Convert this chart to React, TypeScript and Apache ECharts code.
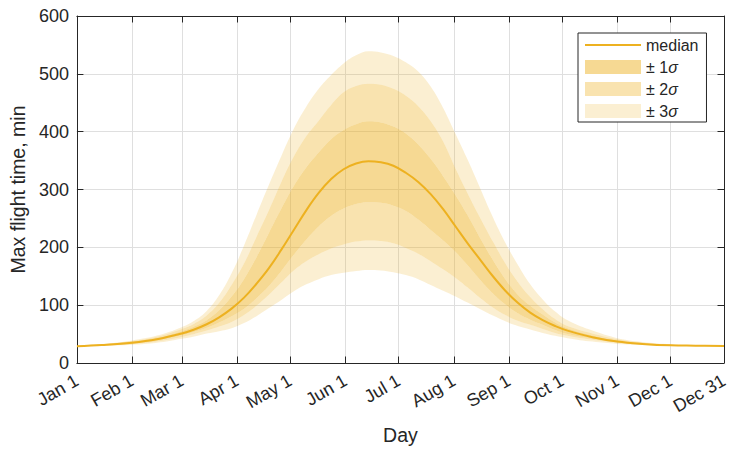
import React, { useEffect, useRef } from "react";
import * as echarts from "echarts";

// Sample days (0 = Jan 1, 364 = Dec 31)
const sampleDays = [0, 14, 31, 45, 59, 66, 73, 80, 87, 94, 101, 108, 115, 122, 129, 136, 143, 150, 157, 164, 171, 178, 185, 192, 199, 206, 213, 220, 227, 234, 241, 248, 255, 262, 269, 276, 290, 304, 318, 334, 348, 364];

const median = [29, 31, 35, 41, 51, 58, 67, 79, 94, 113, 137, 164, 196, 230, 264, 294, 318, 335, 345, 349, 347, 341, 329, 313, 292, 266, 236, 206, 178, 150, 125, 104, 87, 74, 64, 56, 44.5, 37, 33, 30.5, 30, 29.5];
const sigma1Upper = [29.5, 31.8, 37, 43.5, 55, 63, 74, 91, 115, 145, 183, 225, 267, 306, 338, 364, 387, 403, 413, 418, 416, 409, 397, 378, 353, 323, 290, 254, 215, 178, 145, 118, 99, 84, 70, 60, 47.5, 39, 34.5, 31.5, 30.3, 29.8];
const sigma2Upper = [29.8, 32.3, 38, 45.5, 59, 68, 82, 104, 135, 172, 218, 264, 313, 357, 392, 419, 446, 468, 479, 483, 481, 474, 462, 444, 418, 383, 336, 292, 250, 210, 172, 140, 114, 93, 76, 64, 51, 41, 35.5, 32, 30.5, 29.9];
const sigma3Upper = [30, 32.8, 39, 47.5, 62, 73, 90, 117, 155, 203, 256, 308, 358, 405, 443, 474, 498, 518, 532, 539, 537, 531, 520, 504, 478, 441, 396, 350, 301, 252, 208, 170, 136, 110, 89, 74, 56, 43, 36.5, 32.5, 30.7, 30];
const sigma1Lower = [28.7, 30.4, 33.5, 39, 48, 54, 61, 70, 81, 94, 112, 133, 159, 187, 213, 236, 254, 267, 275, 278, 277, 272, 263, 248, 230, 212, 192, 168, 143, 120, 101, 86, 75, 66, 57, 50, 42, 35.5, 32, 30, 29.7, 29.3];
const sigma2Lower = [28.5, 30, 32.5, 37, 45, 50, 56, 63, 71, 83, 99, 118, 139, 160, 176, 188, 198, 205, 210, 212, 211, 207, 199, 189, 176, 162, 147, 130, 112, 96, 83, 73, 66, 59, 52, 47, 40, 34.5, 31.5, 29.8, 29.5, 29.1];
const sigma3Lower = [28.3, 29.6, 31.5, 35, 42, 46, 51, 55, 60, 69, 81, 95, 109, 124, 136, 145, 152, 156, 159, 161, 160, 157, 152, 145, 135, 125, 115, 104, 93, 82, 72, 64, 58, 52, 47, 43, 37, 33, 31, 29.5, 29.3, 29];

const tickLabels = ["Jan 1", "Feb 1", "Mar 1", "Apr 1", "May 1", "Jun 1", "Jul 1", "Aug 1", "Sep 1", "Oct 1", "Nov 1", "Dec 1", "Dec 31"];
const monthNames = ["Jan", "Feb", "Mar", "Apr", "May", "Jun", "Jul", "Aug", "Sep", "Oct", "Nov", "Dec"];
const monthLengths = [31, 28, 31, 30, 31, 30, 31, 31, 30, 31, 30, 31];
const legendNames = ["median", "± 1σ", "± 2σ", "± 3σ"];

const yTicks = { min: 0, max: 600, interval: 100 };

const FONT = "'Liberation Sans', Arial, Helvetica, sans-serif";
const AX = "#262626";
const GOLD = "#EDB120";
const C1 = "rgba(237,177,32,0.488)";
const C2 = "rgba(237,177,32,0.36)";
const C3 = "rgba(237,177,32,0.2)";
const SMOOTH = 0.4;

function buildCategories(): string[] {
  const out: string[] = [];
  monthNames.forEach((m, i) => {
    for (let d = 1; d <= monthLengths[i]; d++) out.push(`${m} ${d}`);
  });
  return out;
}

export default function App() {
  const ref = useRef<HTMLDivElement>(null);

  useEffect(() => {
    if (!ref.current) return;
    const chart = echarts.init(ref.current, undefined, { renderer: "svg" });
    const categories = buildCategories();
    const isTick = (_i: number, v: string) => tickLabels.includes(v);

    const pairs = (arr: number[]) => arr.map((v, i) => [sampleDays[i], v]);
    const diff = (a: number[], b: number[]) => a.map((v, i) => [sampleDays[i], v - b[i]]);

    const bandBase = {
      type: "line",
      stack: "bands",
      smooth: SMOOTH,
      symbol: "none",
      lineStyle: { width: 0 },
      silent: true,
    };

    const option: any = {
      animation: false,
      grid: { left: 73, top: 16, right: 14, bottom: 91, containLabel: false },
      legend: {
        show: true,
        orient: "vertical",
        left: 578,
        top: 33,
        padding: [4, 8, 3, 7],
        itemGap: 6,
        itemWidth: 56,
        itemHeight: 14,
        symbolKeepAspect: true,
        backgroundColor: "#fff",
        borderColor: AX,
        borderWidth: 1,
        borderRadius: 0,
        selectedMode: false,
        textStyle: {
          fontSize: 16,
          color: AX,
          fontFamily: FONT,
          rich: { s: { fontSize: 16, fontStyle: "italic", fontFamily: FONT, color: AX } },
        },
        formatter: (name: string) => name.replace("σ", "{s|σ}"),
        data: [
          { name: legendNames[0], icon: "path://M0,0 L56,0 L56,2 L0,2 Z", itemStyle: { color: GOLD, borderWidth: 0 } },
          { name: legendNames[1], icon: "rect", itemStyle: { color: C1, borderWidth: 0 } },
          { name: legendNames[2], icon: "rect", itemStyle: { color: C2, borderWidth: 0 } },
          { name: legendNames[3], icon: "rect", itemStyle: { color: C3, borderWidth: 0 } },
        ],
      },
      xAxis: [
        {
          type: "category",
          data: categories,
          boundaryGap: false,
          position: "bottom",
          name: "Day",
          nameLocation: "middle",
          nameGap: 62,
          nameTextStyle: { fontSize: 19.5, color: AX, fontFamily: FONT },
          axisLine: { show: true, lineStyle: { color: AX, width: 1 } },
          axisTick: { show: true, inside: true, length: 6.5, interval: isTick, lineStyle: { color: AX, width: 1 } },
          axisLabel: { interval: isTick, rotate: 30, fontSize: 18, color: AX, fontFamily: FONT, margin: 16 },
          splitLine: { show: true, interval: isTick, lineStyle: { color: "#dfdfdf", width: 1 } },
        },
        {
          type: "category",
          data: categories,
          boundaryGap: false,
          position: "top",
          axisLine: { show: true, onZero: false, lineStyle: { color: AX, width: 1 } },
          axisTick: { show: true, inside: true, length: 6.5, interval: isTick, lineStyle: { color: AX, width: 1 } },
          axisLabel: { show: false },
          splitLine: { show: false },
        },
      ],
      yAxis: [
        {
          type: "value",
          min: yTicks.min,
          max: yTicks.max,
          interval: yTicks.interval,
          position: "left",
          name: "Max flight time, min",
          nameLocation: "middle",
          nameGap: 48,
          nameRotate: 90,
          nameTextStyle: { fontSize: 19.5, color: AX, fontFamily: FONT },
          axisLine: { show: true, lineStyle: { color: AX, width: 1 } },
          axisTick: { show: true, inside: true, length: 6.5, lineStyle: { color: AX, width: 1 } },
          axisLabel: { fontSize: 18, color: AX, fontFamily: FONT, margin: 8 },
          splitLine: { show: true, lineStyle: { color: "#dfdfdf", width: 1 } },
        },
        {
          type: "value",
          min: yTicks.min,
          max: yTicks.max,
          interval: yTicks.interval,
          position: "right",
          axisLine: { show: true, onZero: false, lineStyle: { color: AX, width: 1 } },
          axisTick: { show: true, inside: true, length: 6.5, lineStyle: { color: AX, width: 1 } },
          axisLabel: { show: false },
          splitLine: { show: false },
        },
      ],
      series: [
        { ...bandBase, name: "base", data: pairs(sigma3Lower), areaStyle: { opacity: 0 } },
        { ...bandBase, name: "3lo", data: diff(sigma2Lower, sigma3Lower), areaStyle: { color: C3, opacity: 1 } },
        { ...bandBase, name: "2lo", data: diff(sigma1Lower, sigma2Lower), areaStyle: { color: C2, opacity: 1 } },
        { ...bandBase, name: legendNames[1], data: diff(sigma1Upper, sigma1Lower), areaStyle: { color: C1, opacity: 1 }, itemStyle: { color: C1 } },
        { ...bandBase, name: legendNames[2], data: diff(sigma2Upper, sigma1Upper), areaStyle: { color: C2, opacity: 1 }, itemStyle: { color: C2 } },
        { ...bandBase, name: legendNames[3], data: diff(sigma3Upper, sigma2Upper), areaStyle: { color: C3, opacity: 1 }, itemStyle: { color: C3 } },
        {
          type: "line",
          name: legendNames[0],
          data: pairs(median),
          smooth: SMOOTH,
          symbol: "none",
          itemStyle: { color: GOLD },
          lineStyle: { color: GOLD, width: 2 },
          z: 5,
        },
      ],
    };

    chart.setOption(option);
    return () => chart.dispose();
  }, []);

  return <div ref={ref} style={{ position: "fixed", left: 0, top: 0, width: 738, height: 454, background: "#fff" }} />;
}
